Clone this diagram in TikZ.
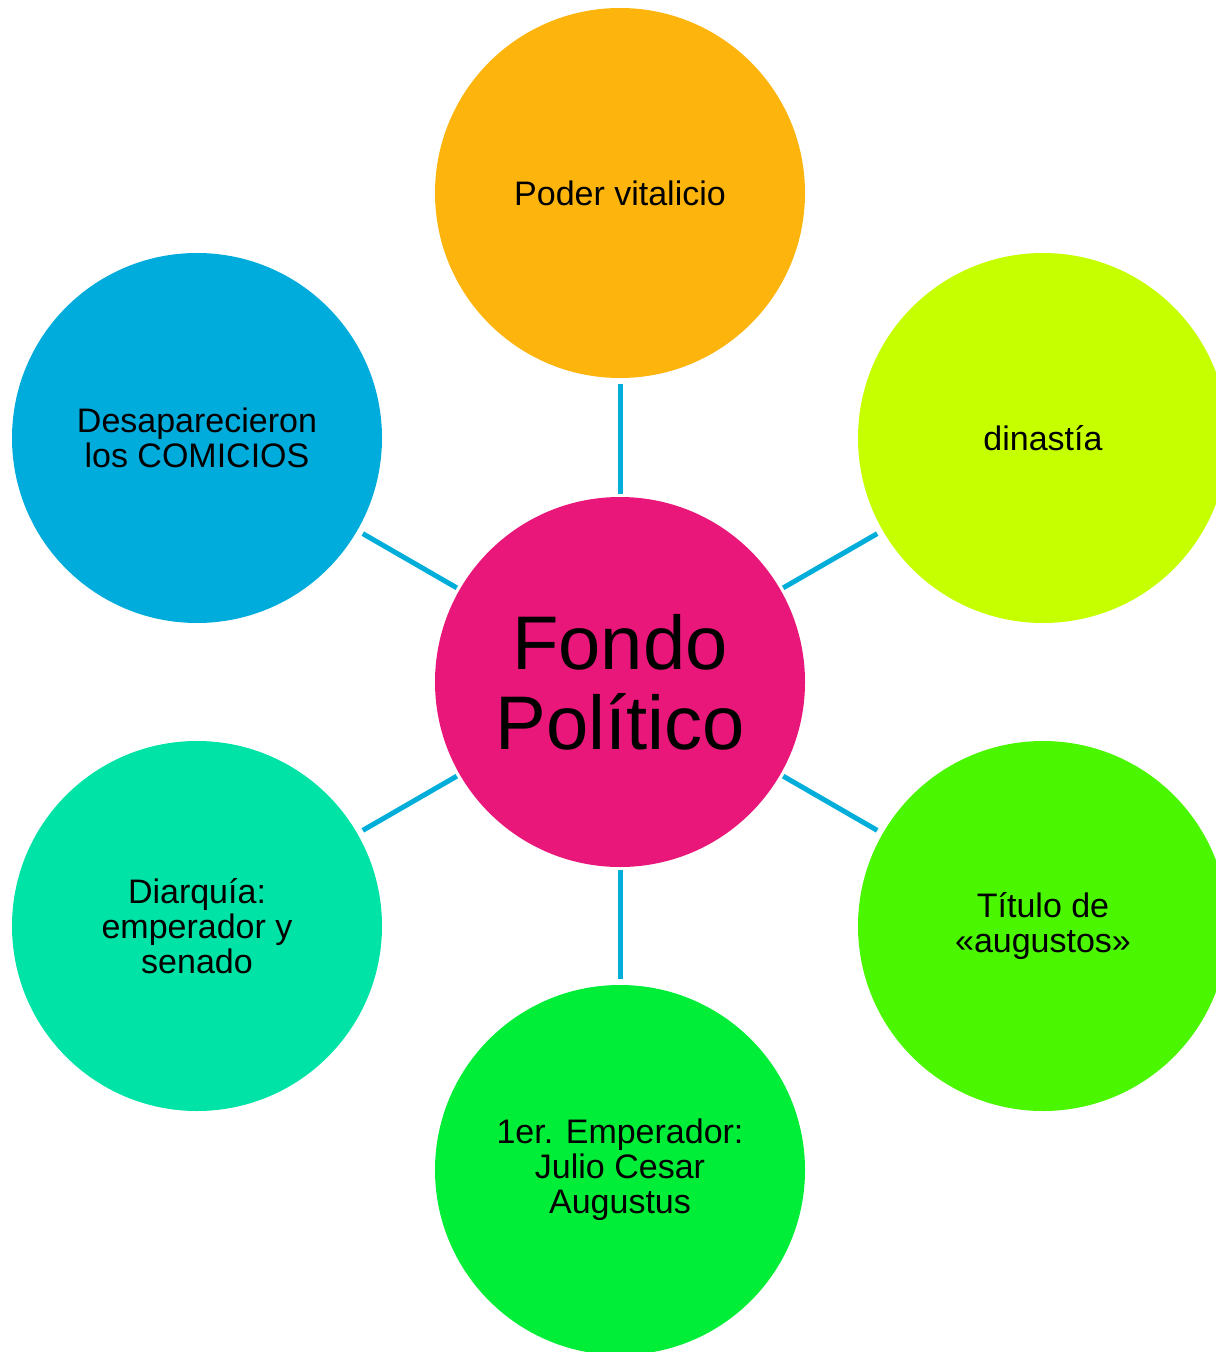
\documentclass[tikz,border=0pt]{standalone}
\usepackage{fontspec}
\setmainfont{Liberation Sans}
\usepackage{tikz}
\usetikzlibrary{shapes}
\tikzset{>=latex}
\definecolor{hubpink}{HTML}{E9177A}
\definecolor{spokeorange}{HTML}{FDB50E}
\definecolor{spokelime}{HTML}{C5FF00}
\definecolor{spokegreen}{HTML}{4BF700}
\definecolor{spokeemerald}{HTML}{00EE37}
\definecolor{spoketeal}{HTML}{00E3A6}
\definecolor{spokeblue}{HTML}{00ACDC}
\definecolor{linkblue}{HTML}{00AED9}
\tikzset{
  hub/.style={circle, fill=hubpink, minimum size=185pt, inner sep=0pt, align=center,
    font=\fontsize{38}{40}\selectfont},
  spoke/.style={circle, minimum size=185pt, inner sep=0pt, align=center,
    font=\fontsize{17}{17.5}\selectfont},
  link/.style={draw=linkblue, line width=2.5pt, shorten <=1.5pt, shorten >=3pt}
}

\begin{document}
\begin{tikzpicture}[x=0.5pt, y=-0.5pt]
      \useasboundingbox (0,0) rectangle (1215,1352);
      \node[hub] (fondo) at (620,682) {Fondo\\Político};
      \node[spoke, fill=spokeorange] (poder) at (620,193) {Poder vitalicio};
      \node[spoke, fill=spokelime] (dinastia) at (1043,438) {dinastía};
      \node[spoke, fill=spokegreen] (titulo) at (1043,926) {Título de\\«augustos»};
      \node[spoke, fill=spokeemerald] (emperador) at (620,1170) {1er. Emperador:\\Julio Cesar\\Augustus};
      \node[spoke, fill=spoketeal] (diarquia) at (197,926) {Diarquía:\\emperador y\\senado};
      \node[spoke, fill=spokeblue] (comicios) at (197,438) {Desaparecieron\\los COMICIOS};
      \draw[link] (fondo) -- (poder);
      \draw[link] (fondo) -- (dinastia);
      \draw[link] (fondo) -- (titulo);
      \draw[link] (fondo) -- (emperador);
      \draw[link] (fondo) -- (diarquia);
      \draw[link] (fondo) -- (comicios);
    \end{tikzpicture}
\end{document}
